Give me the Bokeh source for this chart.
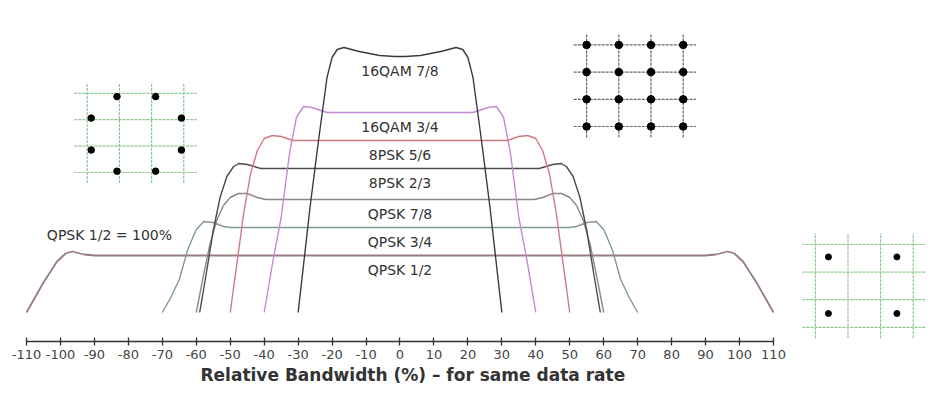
from bokeh.plotting import figure
from bokeh.models import Range1d, FixedTicker, Title
from bokeh.embed import file_html
from bokeh.resources import INLINE
from bokeh.core.properties import value

# ---------------- data ----------------
series_names = ["QPSK 1/2", "QPSK 3/4", "QPSK 7/8", "8PSK 2/3",
                "8PSK 5/6", "16QAM 3/4", "16QAM 7/8"]

# left half of each spectrum (relative bandwidth %, relative level); right half is the mirror image
qpsk12_x = [-110, -105, -101, -98.5, -96.5, -93, -90]
qpsk12_y = [0, 30, 51, 59, 61, 58, 57]
qpsk34_x = [-70, -67.5, -65, -62.5, -60, -57.8, -55, -52, -50]
qpsk34_y = [0, 15, 33, 63, 83, 91, 90, 86, 85]
qpsk78_x = [-60, -58, -56, -54, -52, -50, -47.6, -45, -42, -39.5]
qpsk78_y = [0, 35, 68, 92, 107, 115, 119, 119, 115, 113]
psk8_23_x = [-59, -57, -55, -53, -51, -49, -47.5, -45, -41]
psk8_23_y = [0, 40, 82, 115, 136, 146, 149, 148, 144]
psk8_56_x = [-50, -48, -46, -44, -42, -40, -37.6, -35, -31.5]
psk8_56_y = [0, 50, 100, 139, 162, 174, 177, 176, 172]
qam16_34_x = [-40, -37.5, -35, -32.5, -30.5, -28.4, -26, -21.5]
qam16_34_y = [0, 50, 95, 160, 195, 206, 205, 200]
qam16_78_x = [-30, -26.5, -24, -21.5, -20, -18.5, -16.5, -12, -6, -1.5]
qam16_78_y = [0, 105, 172, 235, 255, 263, 265, 261, 257, 256]

tick_values = [-110, -100, -90, -80, -70, -60, -50, -40, -30, -20, -10,
               0, 10, 20, 30, 40, 50, 60, 70, 80, 90, 100, 110]

# constellations (I/Q)
grid_levels = [-3, -1, 1, 3]
psk8_i = [-1.15, 1.25, -2.75, 2.85, -2.75, 2.85, -1.15, 1.25]
psk8_q = [2.75, 2.75, 1.12, 1.12, -1.3, -1.3, -2.9, -2.9]
qam16_i = [-3, -1, 1, 3] * 4
qam16_q = [3] * 4 + [1] * 4 + [-1] * 4 + [-3] * 4
qpsk_i = [-2.2, 2.0, -2.2, 2.0]
qpsk_q = [2.1, 2.1, -2.0, -2.0]

# ---------------- figure ----------------
W, H = 944, 391
FRAME_L, FRAME_R, FRAME_T, FRAME_B = 0, 936, 0, 333   # frame size in px

p = figure(width=W, height=H, x_range=Range1d(-115.3, 160.36), y_range=Range1d(-29, 304),
           output_backend="svg", toolbar_location=None, y_axis_location=None,
           min_border_left=8, min_border_right=0, min_border_top=8, min_border_bottom=50)
p.outline_line_color = None
p.grid.visible = False
p.background_fill_color = "white"

ax = p.xaxis[0]
ax.ticker = FixedTicker(ticks=tick_values)
ax.major_label_overrides = {v: str(v) for v in tick_values}
ax.bounds = (-110, 110)
ax.major_tick_in = 4
ax.major_tick_out = 4
ax.minor_tick_in = 0
ax.minor_tick_out = 0
ax.axis_line_color = "#333333"
ax.axis_line_width = 1.3
ax.major_tick_line_color = "#333333"
ax.major_tick_line_width = 1.3
ax.major_label_standoff = 4
ax.major_label_text_font = "DejaVu Sans"
ax.major_label_text_font_size = "13px"
ax.major_label_text_color = "#444444"

t = Title(text="Relative Bandwidth (%) \u2013 for same data rate", align="left", offset=192,
          text_font="DejaVu Sans", text_font_size="17px", text_font_style="bold",
          text_color="#333333", standoff=3)
p.add_layout(t, "below")

# ---------------- spectra ----------------
curves = [(qpsk12_x, qpsk12_y), (qpsk34_x, qpsk34_y), (qpsk78_x, qpsk78_y),
          (psk8_23_x, psk8_23_y), (psk8_56_x, psk8_56_y),
          (qam16_34_x, qam16_34_y), (qam16_78_x, qam16_78_y)]
colors = ["#977b7d", "#7f9a98", "#8a8490", "#4a4a52", "#d27883", "#c589d6", "#3a3a46"]
widths = [1.8, 1.4, 1.4, 1.4, 1.4, 1.4, 1.4]

label_x, label_y = [], []
for (lx, ly), c, w in zip(curves, colors, widths):
    xs = list(lx) + [-v for v in reversed(lx)]
    ys = list(ly) + list(reversed(ly))
    p.line(xs, ys, line_color=c, line_width=w, line_join="round")
    label_x.append(0)
    label_y.append(ly[-1] - 14.5)

p.text(x=label_x, y=label_y, text=series_names, text_align="center", text_baseline="middle",
       text_font=value("DejaVu Sans"), text_font_size="14px", text_color="#333333")
p.text(x=[-104], y=[78], text=["QPSK 1/2 = 100%"], text_align="left", text_baseline="middle",
       text_font=value("DejaVu Sans"), text_font_size="14px", text_color="#333333")

# ---------------- constellation insets ----------------
def add_inset(name, cx, cy, sx, sy):
    # cx, cy: inset centre in frame pixels (from top-left); sx, sy: px per I/Q unit
    p.extra_x_ranges[name + "_x"] = Range1d(-(cx - FRAME_L) / sx, (FRAME_R - cx) / sx)
    p.extra_y_ranges[name + "_y"] = Range1d(-(FRAME_B - cy) / sy, (cy - FRAME_T) / sy)
    return dict(x_range_name=name + "_x", y_range_name=name + "_y")

EXT = 3.8
insets = [
    ("psk8", 127, 124.4, 16.1, 13.2, psk8_i, psk8_q, "#8ccb8c", 6.5),
    ("qam16", 626.4, 77.2, 16.1, 13.6, qam16_i, qam16_q, "#5a6e5a", 7.5),
    ("qpsk", 855.8, 277.4, 16.3, 13.8, qpsk_i, qpsk_q, "#8ccb8c", 6),
]
for name, cx, cy, sx, sy, di, dq, gc, ds in insets:
    kw = add_inset(name, cx, cy, sx, sy)
    n = len(grid_levels)
    p.segment(x0=grid_levels, y0=[-EXT] * n, x1=grid_levels, y1=[EXT] * n,
              line_color=gc, line_width=1.2, line_dash="3 1", **kw)
    p.segment(x0=[-EXT] * n, y0=grid_levels, x1=[EXT] * n, y1=grid_levels,
              line_color=gc, line_width=1.2, line_dash="3 1", **kw)
    p.scatter(di, dq, size=ds, color="black", **kw)

open("out.html", "w").write(file_html(p, INLINE))
